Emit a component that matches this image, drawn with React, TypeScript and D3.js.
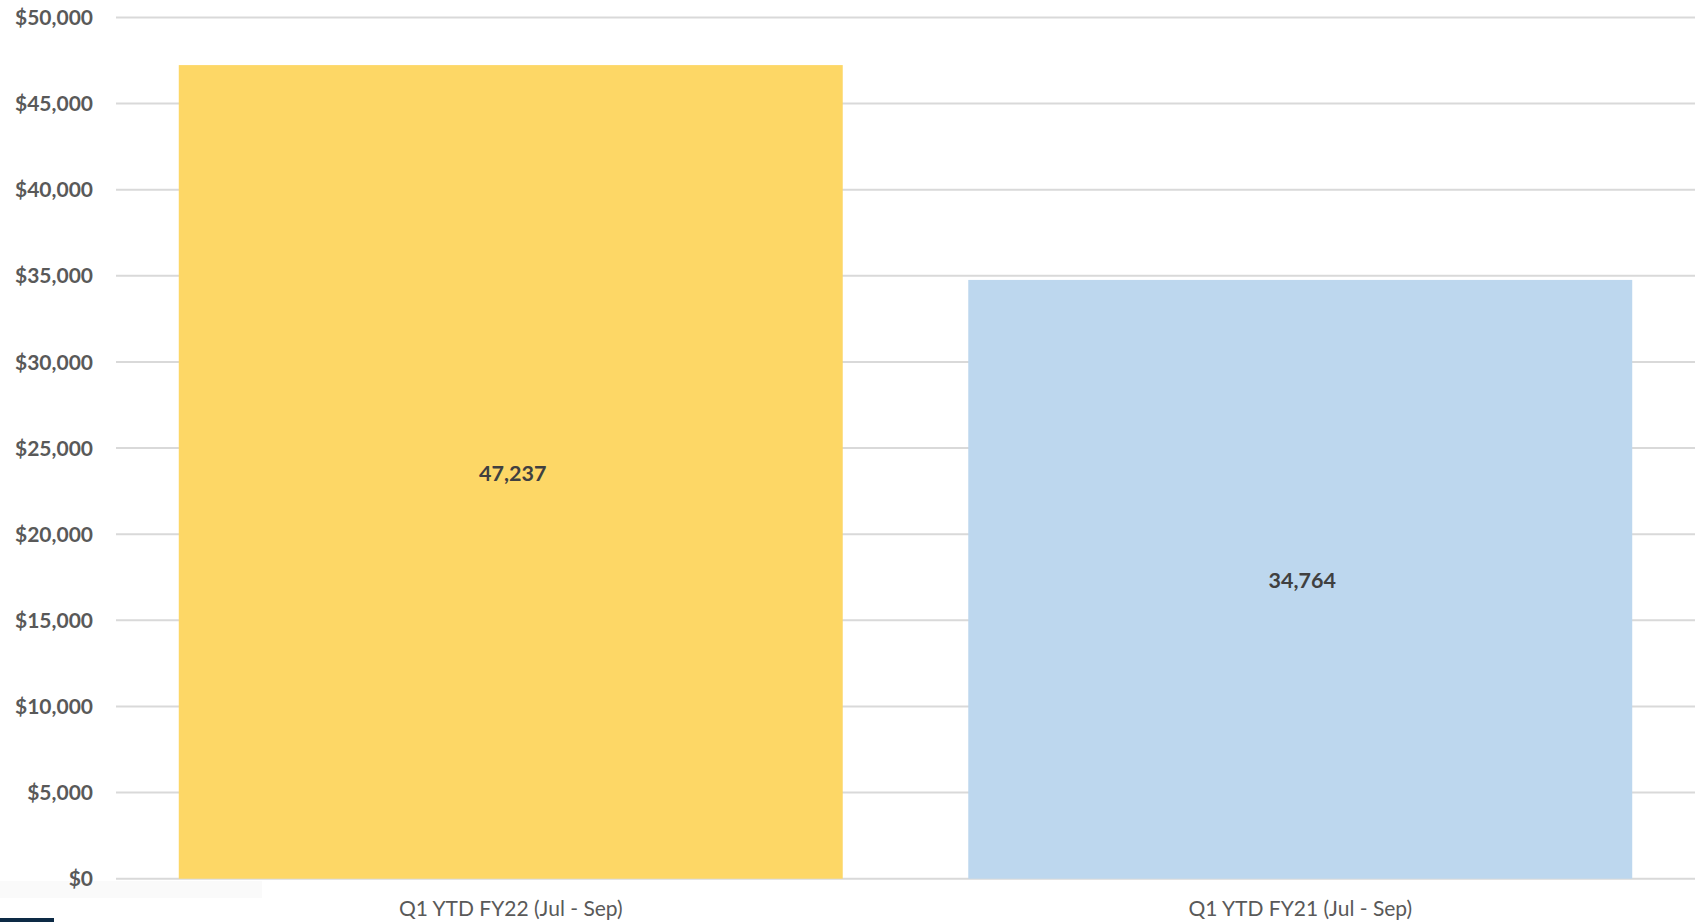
import React from "react";
import * as d3 from "d3";

const categories = ["Q1 YTD FY22 (Jul - Sep)", "Q1 YTD FY21 (Jul - Sep)"];
const values = [47237, 34764];
const barColors = ["#FDD766", "#BDD7EE"];
const yTicks = [0, 5000, 10000, 15000, 20000, 25000, 30000, 35000, 40000, 45000, 50000];

const W = 1698;
const H = 922;

export default function App() {
  const x = d3
    .scaleBand<string>()
    .domain(categories)
    .range([116, 1695])
    .paddingInner(0.159)
    .paddingOuter(0.0795);
  const y = d3.scaleLinear().domain([0, 50000]).range([878.7, 17.5]);
  const fmtAxis = (v: number) => "$" + d3.format(",")(v);
  const fmtVal = d3.format(",");
  const font = "Lato, Calibri, 'Open Sans', sans-serif";

  return (
    <svg
      width={W}
      height={H}
      style={{ position: "absolute", left: 0, top: 0, background: "#ffffff" }}
      fontFamily={font}
    >
      <rect x={0} y={881} width={262} height={17} fill="#fafafa" />
      <rect x={0} y={918} width={54} height={4} fill="#0d2a45" />
      {yTicks.map((t) => (
        <g key={t}>
          <line x1={116} x2={1695} y1={y(t)} y2={y(t)} stroke="#d9d9d9" strokeWidth={2} />
          <text
            x={93}
            y={y(t)}
            dy="0.36em"
            textAnchor="end"
            fontSize={21}
            fontWeight="bold"
            fill="#595959"
          >
            {fmtAxis(t)}
          </text>
        </g>
      ))}
      {categories.map((c, i) => (
        <g key={c}>
          <rect
            x={x(c)}
            y={y(values[i])}
            width={x.bandwidth()}
            height={y(0) - y(values[i])}
            fill={barColors[i]}
          />
          <text
            x={(x(c) as number) + x.bandwidth() / 2 + 2}
            y={(y(values[i]) + y(0)) / 2 + 1}
            dy="0.36em"
            textAnchor="middle"
            fontSize={21.5}
            fontWeight="bold"
            fill="#404040"
          >
            {fmtVal(values[i])}
          </text>
          <text
            x={(x(c) as number) + x.bandwidth() / 2}
            y={916}
            textAnchor="middle"
            fontSize={21}
            fill="#595959"
          >
            {c}
          </text>
        </g>
      ))}
    </svg>
  );
}
